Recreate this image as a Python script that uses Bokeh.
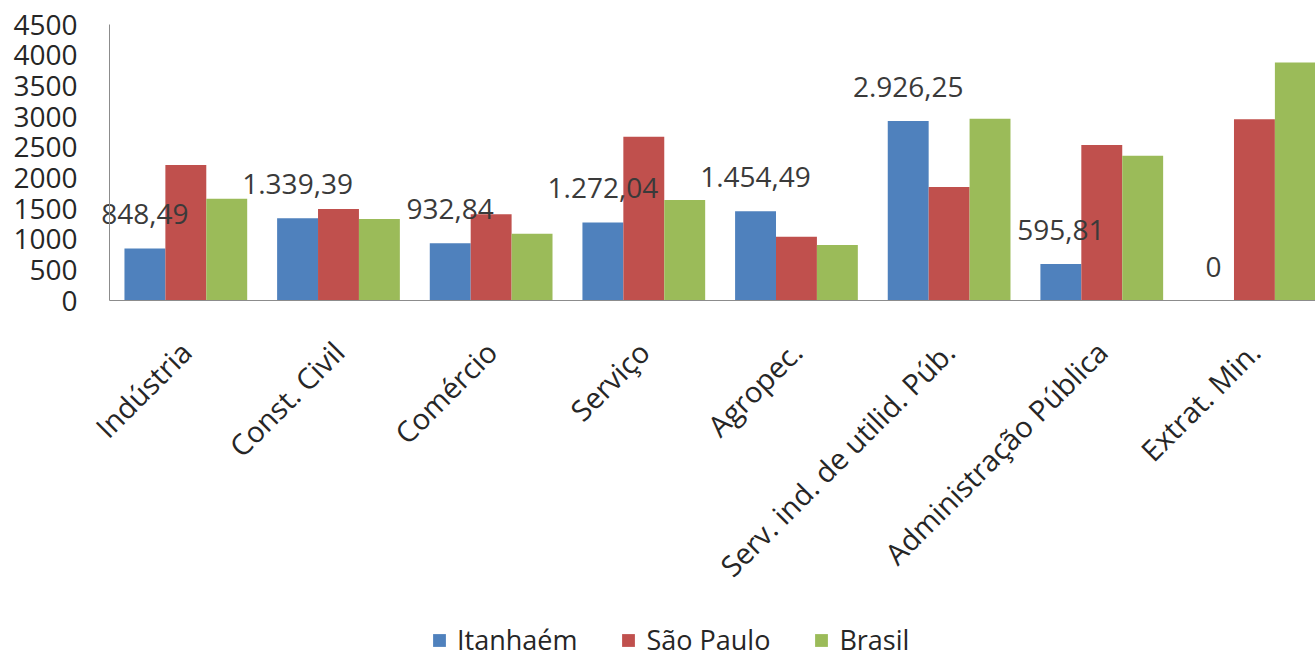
import math

from bokeh.core.properties import value
from bokeh.embed import file_html
from bokeh.models import (ColumnDataSource, FixedTicker, Legend, LegendItem,
                          LinearAxis, Range1d)
from bokeh.plotting import figure
from bokeh.resources import INLINE

# Setores de atividade e valores por localidade
categories = [
    "Indústria",
    "Const. Civil",
    "Comércio",
    "Serviço",
    "Agropec.",
    "Serv. ind. de utilid. Púb.",
    "Administração Pública",
    "Extrat. Min.",
]
itanhaem = [848.49, 1339.39, 932.84, 1272.04, 1454.49, 2926.25, 595.81, 0]
sao_paulo = [2210, 1490, 1405, 2670, 1040, 1850, 2535, 2955]
brasil = [1660, 1330, 1090, 1640, 905, 2965, 2360, 3880]
series_names = ["Itanhaém", "São Paulo", "Brasil"]
y_ticks = [0, 500, 1000, 1500, 2000, 2500, 3000, 3500, 4000, 4500]

colors = ["#4F81BD", "#C0504D", "#9BBB59"]
FONT = "Open Sans"
BAR_W = 0.268

# Geometria da página (px): a área de plotagem ocupa toda a tela e os eixos
# são fixados em posições de dados, para que os rótulos possam sair da área
# das barras sem serem cortados.
W, H = 1315, 662
AX_LEFT, AX_TOP, AX_BOTTOM = 109, 24, 300
X_LO, X_HI = 0.5, 8.4
Y_LO, Y_HI = 0, 4500

px_per_x = (W - AX_LEFT) / (X_HI - X_LO)
px_per_y = (AX_BOTTOM - AX_TOP) / (Y_HI - Y_LO)
x_start = X_LO - AX_LEFT / px_per_x
y_end = Y_HI + AX_TOP / px_per_y
y_start = Y_LO - (H - AX_BOTTOM) / px_per_y


def br_number(v):
    """Formata no padrão brasileiro: 1.339,39 ; zero aparece como 0."""
    if v == 0:
        return "0"
    s = f"{v:,.2f}"
    return s.replace(",", "#").replace(".", ",").replace("#", ".")


positions = list(range(1, len(categories) + 1))

p = figure(
    width=W,
    height=H,
    output_backend="svg",
    toolbar_location=None,
    x_range=Range1d(x_start, X_HI),
    y_range=Range1d(y_start, y_end),
    x_axis_type=None,
    y_axis_type=None,
    min_border=0,
    outline_line_color=None,
    background_fill_color="white",
    border_fill_color="white",
)
p.xgrid.grid_line_color = None
p.ygrid.grid_line_color = None

renderers = []
for k, (vals, col) in enumerate(zip([itanhaem, sao_paulo, brasil], colors)):
    src = ColumnDataSource(dict(x=[x + (k - 1) * BAR_W for x in positions], top=vals))
    r = p.vbar(x="x", top="top", width=BAR_W, bottom=0, source=src,
               fill_color=col, line_color=None)
    renderers.append(r)

# Rótulos de valor de Itanhaém
lbl_src = ColumnDataSource(dict(
    x=[x - BAR_W for x in positions],
    y=itanhaem,
    text=[br_number(v) for v in itanhaem],
))
p.text(x="x", y="y", text="text", source=lbl_src, y_offset=-34,
       text_align="center", text_baseline="middle",
       text_font=value(FONT), text_font_size="28px", text_color="#3a3a3a")

# Eixo vertical
yaxis = LinearAxis(
    fixed_location=X_LO,
    bounds=(Y_LO, Y_HI),
    ticker=FixedTicker(ticks=y_ticks),
    major_tick_line_color=None,
    minor_tick_line_color=None,
    axis_line_color="#8c8c8c",
    major_label_standoff=26,
    major_label_text_font=FONT,
    major_label_text_font_size="28px",
    major_label_text_color="#262626",
)
p.add_layout(yaxis, "left")

# Eixo horizontal com as categorias inclinadas
xaxis = LinearAxis(
    fixed_location=Y_LO,
    bounds=(X_LO, X_HI),
    ticker=FixedTicker(ticks=positions),
    major_label_overrides={x: c for x, c in zip(positions, categories)},
    major_label_orientation=math.pi / 4,
    major_tick_line_color=None,
    minor_tick_line_color=None,
    axis_line_color="#8c8c8c",
    major_label_standoff=40,
    major_label_text_font=FONT,
    major_label_text_font_size="29px",
    major_label_text_color="#262626",
)
p.add_layout(xaxis, "below")

legend = Legend(
    items=[LegendItem(label=n, renderers=[r]) for n, r in zip(series_names, renderers)],
    orientation="horizontal",
    location=(431, 4),
    glyph_width=16,
    glyph_height=16,
    label_standoff=10,
    spacing=43,
    label_text_font=FONT,
    label_text_font_size="27px",
    label_text_color="#262626",
    border_line_color=None,
    background_fill_alpha=0,
    margin=0,
    padding=0,
)
p.add_layout(legend, "center")

open("out.html", "w").write(file_html(p, INLINE))
